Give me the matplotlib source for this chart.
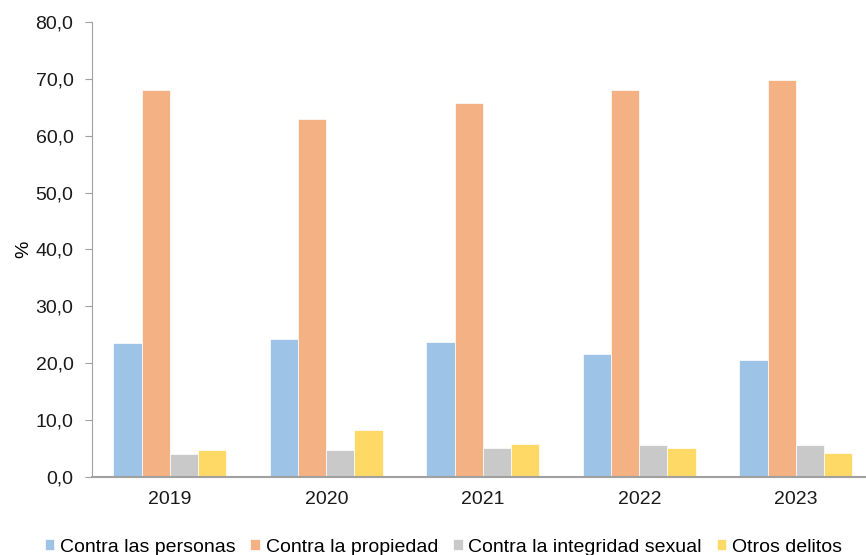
import matplotlib.pyplot as plt
import numpy as np
from matplotlib.ticker import FuncFormatter

plt.rcParams['font.family'] = ['Liberation Sans', 'DejaVu Sans']

years = ['2019', '2020', '2021', '2022', '2023']
personas = [23.5, 24.3, 23.7, 21.6, 20.6]
propiedad = [68.0, 62.9, 65.7, 68.0, 69.9]
sexual = [4.0, 4.7, 5.1, 5.5, 5.5]
otros = [4.7, 8.2, 5.7, 5.1, 4.2]

series = [
    ('Contra las personas', personas, '#9DC3E6'),
    ('Contra la propiedad', propiedad, '#F4B183'),
    ('Contra la integridad sexual', sexual, '#C9C9C9'),
    ('Otros delitos', otros, '#FFD966'),
]

fig = plt.figure(figsize=(8.66, 5.55), dpi=100)
ax = fig.add_axes([0.1057, 0.141, 0.9036, 0.819])

x = np.arange(len(years))
w = 0.18
for i, (name, vals, col) in enumerate(series):
    ax.bar(x + (i - 1.5) * w, vals, w, color=col, label=name,
           edgecolor='white', linewidth=0.5)

ax.set_xlim(-0.5, 4.5)
ax.set_ylim(0, 80)
ax.set_yticks(np.arange(0, 81, 10))
ax.yaxis.set_major_formatter(FuncFormatter(lambda v, p: f'{v:.1f}'.replace('.', ',')))
ax.set_xticks(x)
ax.set_xticklabels(years)
ax.tick_params(axis='y', labelsize=14, length=5, color='#A0A0A0', pad=8, labelcolor='#1a1a1a')
ax.tick_params(axis='x', labelsize=14, length=0, pad=10, labelcolor='#1a1a1a')
ax.set_ylabel('%', fontsize=14, labelpad=2)

for s in ['top', 'right']:
    ax.spines[s].set_visible(False)
ax.spines['left'].set_color('#A0A0A0')
ax.spines['bottom'].set_color('#A0A0A0')
ax.spines['bottom'].set_linewidth(1.5)

fig.legend(loc='lower center', bbox_to_anchor=(0.512, -0.033), ncol=4, frameon=False,
           fontsize=14, handlelength=0.5, handleheight=0.5, handletextpad=0.3,
           columnspacing=0.75)

fig.savefig('out.png', dpi=100)
